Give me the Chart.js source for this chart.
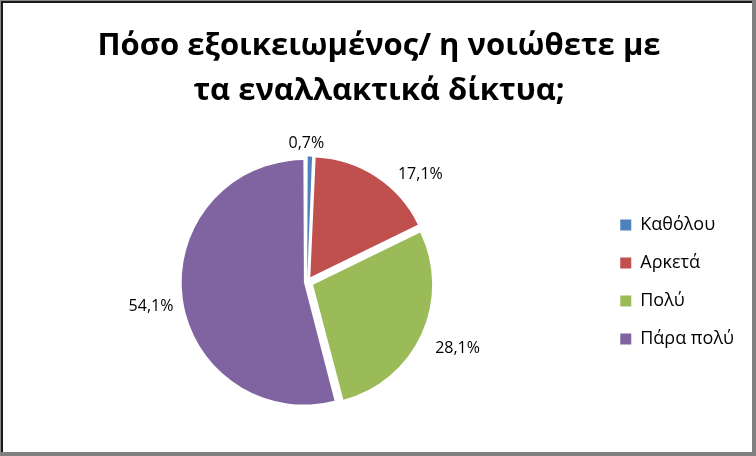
<!DOCTYPE html>
<html>
<head>
<meta charset="utf-8">
<title>Πόσο εξοικειωμένος</title>
<script src="https://cdn.jsdelivr.net/npm/chart.js@4.4.0/dist/chart.umd.min.js"></script>
<style>
  body { margin: 0; background: #fff; }
  #wrap { position: relative; width: 756px; height: 456px; background: #fff; }
  #frame {
    position: absolute; left: 0; top: 0; right: 0; bottom: 0;
    border-left: 1px solid #8a8a8a; border-top: 1px solid #8a8a8a;
    border-right: 4px solid #808080; border-bottom: 4px solid #808080;
    box-shadow: inset 2px 2px 0 #1a1a1a;
    pointer-events: none;
  }
  canvas { position: absolute; left: 0; top: 0; }
</style>
</head>
<body>
<div id="wrap">
  <canvas id="pieChart" width="756" height="456"></canvas>
  <div id="frame"></div>
</div>
<script>
// answers and their share of responses (%)
var categories = ["Καθόλου", "Αρκετά", "Πολύ", "Πάρα πολύ"];
var shares = [0.7, 17.1, 28.1, 54.1];
var sliceColors = ["#4F81BD", "#C0504D", "#9BBB59", "#8064A2"];
var titleLines = ["Πόσο εξοικειωμένος/ η νοιώθετε με", "τα εναλλακτικά δίκτυα;"];

// chart.js scales the explode distance by slice size, so each slice
// gets its own value to end up ~6px out like the excel original
var explode = [13, 23, 26, 13];

function fmtPct(v){
    return v.toFixed(1).replace(".", ",") + "%";
}

// percent labels outside each slice
var sliceLabels = {
    id: "sliceLabels",
    afterDatasetsDraw: function(chart, args, opts){
        var ctx = chart.ctx;
        var meta = chart.getDatasetMeta(0);
        ctx.save();
        ctx.font = opts.size + "px " + opts.family;
        ctx.fillStyle = opts.color;
        ctx.textAlign = "center";
        ctx.textBaseline = "middle";
        meta.data.forEach(function(arc, i){
            var p = arc.getProps(["x", "y", "startAngle", "endAngle", "outerRadius"], true);
            var mid = (p.startAngle + p.endAngle) / 2;
            var txt = fmtPct(shares[i]);
            var w = ctx.measureText(txt).width;
            var r = p.outerRadius + opts.gap;
            var cx = p.x + Math.cos(mid) * (r + w / 2);
            var cy = p.y + Math.sin(mid) * (r + opts.size / 2);
            var n = opts.nudge[i] || [0, 0];
            ctx.fillText(txt, cx + n[0], cy + n[1]);
        });
        ctx.restore();
    }
};

new Chart("pieChart", {
    type: "pie",
    data: {
        labels: categories,
        datasets: [{
            data: shares,
            backgroundColor: sliceColors,
            borderWidth: 0,
            offset: explode,
            radius: 119
        }]
    },
    plugins: [sliceLabels],
    options: {
        responsive: false,
        animation: false,
        layout: { padding: { left: 14, right: 12, top: 0, bottom: 10 } },
        plugins: {
            title: {
                display: true,
                text: titleLines,
                color: "#000",
                font: { family: "'Open Sans'", size: 31, weight: "bold", lineHeight: 1.45 },
                padding: { top: 24, bottom: 4 }
            },
            legend: {
                position: "right",
                fullSize: false,
                labels: {
                    boxWidth: 11,
                    boxHeight: 11,
                    padding: 20,
                    color: "#000",
                    font: { family: "'Open Sans'", size: 18 }
                }
            },
            tooltip: { enabled: false },
            sliceLabels: {
                family: "'Open Sans'",
                size: 16,
                color: "#000",
                gap: 12,
                nudge: [[-4, 0], [29, 9], [11, 8], [-4, 7]]
            }
        }
    }
});
</script>
</body>
</html>
